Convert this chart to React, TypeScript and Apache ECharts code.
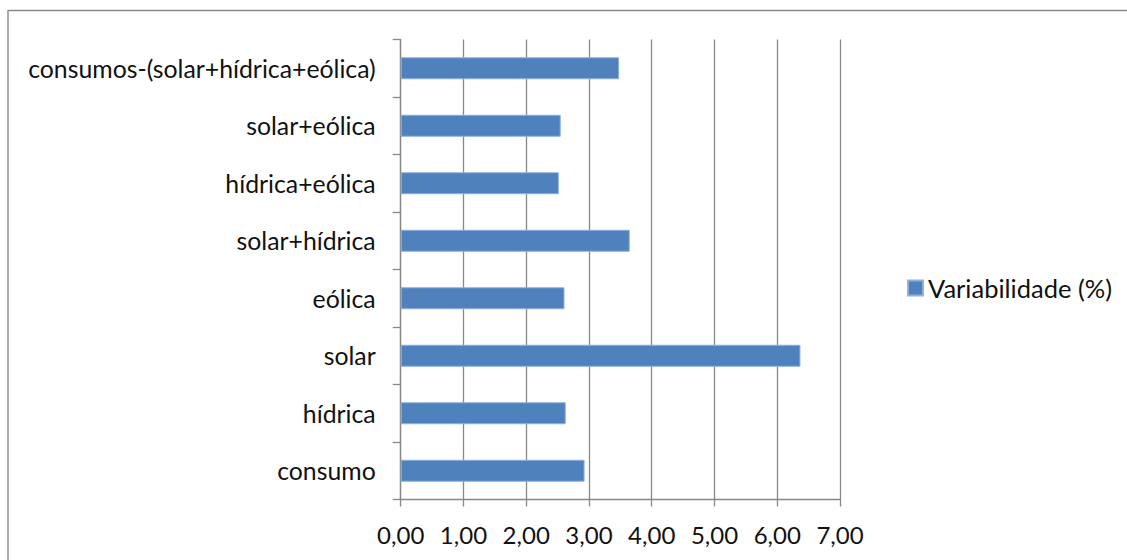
import React, { useEffect, useRef } from "react";
import * as echarts from "echarts";

const categories = [
  "consumo",
  "hídrica",
  "solar",
  "eólica",
  "solar+hídrica",
  "hídrica+eólica",
  "solar+eólica",
  "consumos-(solar+hídrica+eólica)",
];
const values = [2.93, 2.63, 6.37, 2.61, 3.65, 2.52, 2.55, 3.48];
const seriesName = "Variabilidade (%)";
const xMin = 0;
const xMax = 7;
const xInterval = 1;

const FONT = "Lato";

export default function App() {
  const ref = useRef<HTMLDivElement>(null);
  useEffect(() => {
    if (!ref.current) return;
    const chart = echarts.init(ref.current, null, { renderer: "svg" });
    chart.setOption({
      animation: false,
      backgroundColor: "#ffffff",
      textStyle: { fontFamily: FONT },
      grid: { left: 400.7, right: 287, top: 39.5, height: 460, containLabel: false },
      legend: {
        show: true,
        data: [seriesName],
        left: 907,
        top: 272,
        padding: 0,
        itemWidth: 15,
        itemHeight: 15,
        icon: "rect",
        textStyle: { fontSize: 25.5, color: "#111", fontFamily: FONT, lineHeight: 32 },
      },
      xAxis: {
        type: "value",
        min: xMin,
        max: xMax,
        interval: xInterval,
        axisLine: { show: true, lineStyle: { color: "#888888", width: 1.3 } },
        axisTick: { show: true, length: 7, lineStyle: { color: "#888888", width: 1.3 } },
        splitLine: { show: true, lineStyle: { color: "#888888", width: 1.3 } },
        axisLabel: {
          fontSize: 24,
          color: "#111",
          fontFamily: FONT,
          margin: 23,
          formatter: (v: number) => v.toFixed(2).replace(".", ","),
        },
      },
      yAxis: {
        type: "category",
        data: categories,
        axisLine: { show: true, lineStyle: { color: "#888888", width: 1.3 } },
        axisTick: { show: true, length: 8, lineStyle: { color: "#888888", width: 1.3 } },
        axisLabel: { fontSize: 24.8, color: "#111", fontFamily: FONT, margin: 25 },
        splitLine: { show: false },
      },
      series: [
        {
          name: seriesName,
          type: "bar",
          data: values,
          barWidth: 22,
          itemStyle: { color: "#4F81BD", borderColor: "#8fb0db", borderWidth: 1 },
        },
      ],
      graphic: [
        {
          type: "polyline",
          shape: { points: [[8, 560], [8, 10.5], [1127, 10.5]] },
          style: { stroke: "#8a8a8a", lineWidth: 1.4, fill: null },
          silent: true,
        },
      ],
    });
    return () => chart.dispose();
  }, []);
  return (
    <div
      ref={ref}
      style={{ position: "fixed", left: 0, top: 0, width: 1127, height: 560 }}
    />
  );
}
